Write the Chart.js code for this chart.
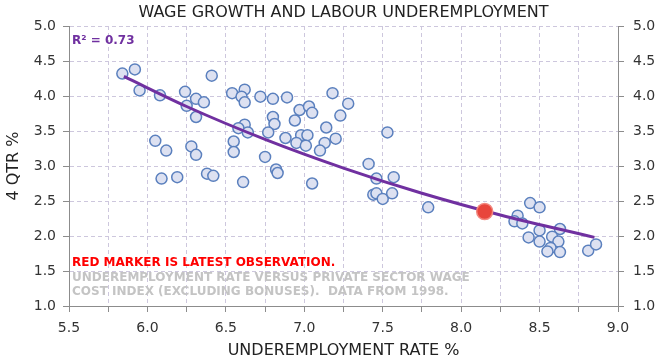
<!DOCTYPE html>
<html lang="en">
<head>
  <meta charset="UTF-8">
  <title>Wage Growth and Labour Underemployment</title>
  <script src="https://cdn.jsdelivr.net/npm/chart.js"></script>
  <style>
    body { margin: 0; background: #fff; }
  </style>
</head>
<body>
  <canvas id="wageChart" width="661" height="361"></canvas>

  <script>
    // underemployment rate % (x) and 4 qtr wage growth % (y)
    const underemp = [
      5.84, 5.92, 5.95, 6.08, 6.41, 6.24, 6.31, 6.36, 6.25, 6.31,
      6.54, 6.62, 6.60, 6.62, 6.05, 6.12, 6.28, 6.31, 6.55, 6.55,
      6.62, 6.58, 6.64, 6.72, 6.80, 6.89, 7.18, 7.28, 6.97, 7.03,
      7.05, 6.94, 7.23, 6.80, 6.81, 7.14, 6.77, 6.88, 6.98, 7.02,
      6.95, 7.01, 7.13, 7.20, 7.10, 7.53, 6.75, 6.09, 6.19, 6.38,
      6.42, 6.61, 6.82, 6.83, 7.05, 7.41, 7.46, 7.57, 7.44, 7.46,
      7.50, 7.56, 7.79, 8.44, 8.50, 8.36, 8.34, 8.39, 8.63, 8.50,
      8.43, 8.50, 8.58, 8.62, 8.57, 8.55, 8.63, 8.81, 8.86
    ];
    const wageGrowth = [
      4.32, 4.38, 4.08, 4.01, 4.29, 4.06, 3.96, 3.91, 3.86, 3.70,
      4.04, 4.09, 3.99, 3.91, 3.36, 3.22, 3.28, 3.16, 3.35, 3.20,
      3.59, 3.54, 3.48, 3.99, 3.96, 3.98, 4.04, 3.89, 3.80, 3.85,
      3.76, 3.65, 3.72, 3.70, 3.60, 3.55, 3.48, 3.40, 3.44, 3.44,
      3.33, 3.29, 3.33, 3.39, 3.22, 3.48, 3.13, 2.82, 2.84, 2.89,
      2.86, 2.77, 2.95, 2.90, 2.75, 3.03, 2.82, 2.84, 2.59, 2.61,
      2.53, 2.61, 2.41, 2.47, 2.41, 2.29, 2.21, 2.18, 2.10, 2.08,
      1.98, 1.92, 1.99, 1.92, 1.83, 1.78, 1.77, 1.79, 1.88
    ];

    // latest observation (red marker)
    const latestUnderemp = [8.15];
    const latestWage = [2.35];

    // trend line
    const trendX = [5.85, 6.25, 6.75, 7.25, 7.75, 8.25, 8.85];
    const trendY = [4.28, 3.85, 3.38, 2.97, 2.61, 2.30, 1.98];

    const yTicks = [1.0, 1.5, 2.0, 2.5, 3.0, 3.5, 4.0, 4.5, 5.0];

    const FONT = '"DejaVu Sans", Verdana, sans-serif';

    // title (centred on the plot) and the text notes inside the plot
    const notesPlugin = {
      id: 'notes',
      afterDraw(chart) {
        const ctx = chart.ctx;
        const area = chart.chartArea;
        const x = area.left + 3;
        ctx.save();
        ctx.textBaseline = 'middle';
        ctx.textAlign = 'center';
        ctx.font = '16px ' + FONT;
        ctx.fillStyle = '#222';
        ctx.fillText('WAGE GROWTH AND LABOUR UNDEREMPLOYMENT', (area.left + area.right) / 2, 13);

        ctx.textAlign = 'left';
        ctx.font = 'bold 12px ' + FONT;
        ctx.fillStyle = '#7030A0';
        ctx.fillText('R\u00B2 = 0.73', x, area.top + 15);
        ctx.fillStyle = '#FF0000';
        ctx.fillText('RED MARKER IS LATEST OBSERVATION.', x, area.bottom - 43);
        ctx.fillStyle = '#C4C4C4';
        ctx.fillText('UNDEREMPLOYMENT RATE VERSUS PRIVATE SECTOR WAGE', x, area.bottom - 28);
        ctx.fillText('COST INDEX (EXCLUDING BONUSES).  DATA FROM 1998.', x, area.bottom - 14);
        ctx.restore();
      }
    };

    const gridColor = '#CDC7DD';
    const axisColor = '#8C8C8C';

    const ctx = document.getElementById('wageChart').getContext('2d');
    const wageChart = new Chart(ctx, {
      type: 'scatter',
      data: {
        datasets: [
          {
            label: 'Latest',
            data: latestUnderemp.map((v, i) => ({ x: v, y: latestWage[i] })),
            backgroundColor: '#E8453C',
            borderColor: '#F2877F',
            borderWidth: 1.5,
            pointRadius: 8,
            order: 0
          },
          {
            label: 'Trend',
            type: 'line',
            data: trendX.map((v, i) => ({ x: v, y: trendY[i] })),
            borderColor: '#7030A0',
            borderWidth: 3,
            pointRadius: 0,
            fill: false,
            cubicInterpolationMode: 'monotone',
            order: 1
          },
          {
            label: 'Observations',
            data: underemp.map((v, i) => ({ x: v, y: wageGrowth[i] })),
            backgroundColor: '#DDE1F1',
            borderColor: '#5B80BE',
            borderWidth: 1.5,
            pointRadius: 5.5,
            order: 2
          }
        ]
      },
      options: {
        responsive: false,
        animation: false,
        layout: { padding: { top: 26 } },
        font: { family: FONT },
        plugins: {
          legend: { display: false },
          tooltip: { enabled: false },
          title: { display: false }
        },
        scales: {
          x: {
            type: 'linear',
            min: 5.5,
            max: 9.0,
            ticks: {
              stepSize: 0.25,
              autoSkip: false,
              maxRotation: 0,
              padding: 8,
              color: '#333',
              font: { family: FONT, size: 14 },
              callback: (v) => (Math.round(v * 100) % 50 === 0 ? v.toFixed(1) : '')
            },
            grid: { color: gridColor, tickColor: axisColor, tickLength: 6 },
            border: { color: axisColor, dash: [4, 3] },
            title: {
              display: true,
              text: 'UNDEREMPLOYMENT RATE %',
              color: '#222',
              font: { family: FONT, size: 16 },
              padding: 1
            },
            afterFit: (s) => { s.height = 55; }
          },
          y: {
            position: 'left',
            min: 1,
            max: 5,
            afterBuildTicks: (s) => { s.ticks = yTicks.map(v => ({ value: v })); },
            ticks: {
              padding: 7,
              color: '#333',
              font: { family: FONT, size: 14 },
              callback: (v) => v.toFixed(1)
            },
            grid: { color: gridColor, tickColor: axisColor, tickLength: 6 },
            border: { color: axisColor, dash: [4, 3] },
            title: {
              display: true,
              text: '4 QTR %',
              color: '#222',
              font: { family: FONT, size: 16 },
              padding: 4
            },
            afterFit: (s) => { s.width = 69; }
          },
          y2: {
            position: 'right',
            min: 1,
            max: 5,
            afterBuildTicks: (s) => { s.ticks = yTicks.map(v => ({ value: v })); },
            ticks: {
              padding: 9,
              color: '#333',
              font: { family: FONT, size: 14 },
              callback: (v) => v.toFixed(1)
            },
            grid: { drawOnChartArea: false, tickColor: axisColor, tickLength: 6 },
            border: { color: axisColor },
            afterFit: (s) => { s.width = 43; }
          }
        }
      },
      plugins: [notesPlugin]
    });
  </script>
</body>
</html>
